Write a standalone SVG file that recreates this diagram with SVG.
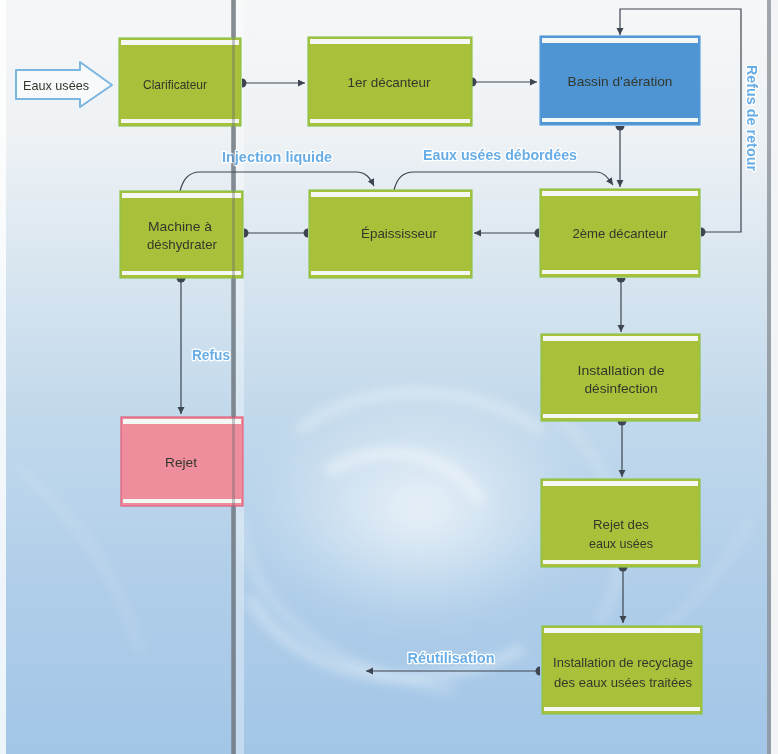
<svg xmlns="http://www.w3.org/2000/svg" width="778" height="754" viewBox="0 0 778 754">
  <style>
    .box-g .fill { fill: #a9c13a; }
    .box-g .edge { fill: none; stroke: #8cc44c; stroke-width: 1.2; }
    .box-b .fill { fill: #4f95d4; }
    .box-b .edge { fill: none; stroke: #5aa0dc; stroke-width: 1.2; }
    .box-r .fill { fill: #ee8d9c; }
    .box-r .edge { fill: none; stroke: #e0607e; stroke-width: 1.2; }
    .band { fill: #f4f8f4; }
    .t { font-family: "Liberation Sans Narrow", "Liberation Sans", Arial, sans-serif; font-size: 13.5px; fill: #33372c; text-anchor: middle; }
    .lbl { font-family: "Liberation Sans Narrow", "Liberation Sans", Arial, sans-serif; font-size: 14.5px; font-weight: bold; fill: #68ade6; stroke: #ffffff; stroke-width: 2.6; paint-order: stroke; stroke-linejoin: round; text-anchor: middle; }
    .wire { fill: none; stroke: #3d4550; stroke-width: 1.2; }
    .dot { fill: #3d4550; }
  </style>
  <defs>
    <linearGradient id="sky" x1="0" y1="0" x2="0" y2="1">
      <stop offset="0" stop-color="#f6f7f8"/>
      <stop offset="0.18" stop-color="#eef2f5"/>
      <stop offset="0.35" stop-color="#d9e6f0"/>
      <stop offset="0.55" stop-color="#c2d9ec"/>
      <stop offset="0.8" stop-color="#aecde9"/>
      <stop offset="1" stop-color="#a3c6e7"/>
    </linearGradient>
    <radialGradient id="eye" cx="0.5" cy="0.5" r="0.5">
      <stop offset="0" stop-color="#ffffff" stop-opacity="0.7"/>
      <stop offset="0.6" stop-color="#ffffff" stop-opacity="0.25"/>
      <stop offset="1" stop-color="#ffffff" stop-opacity="0"/>
    </radialGradient>
    <filter id="soft" x="-20%" y="-20%" width="140%" height="140%">
      <feGaussianBlur stdDeviation="6"/>
    </filter>
    <filter id="softer" x="-20%" y="-20%" width="140%" height="140%">
      <feGaussianBlur stdDeviation="14"/>
    </filter>
    <marker id="head" markerUnits="userSpaceOnUse" markerWidth="8" markerHeight="8" refX="7" refY="3.5" orient="auto">
      <path d="M0,0 L7,3.5 L0,7 Z" fill="#3d4550"/>
    </marker>
    <path id="cap" d="M0,-4.5 A4.5,4.5 0 0 1 0,4.5 Z"/>
  </defs>

  <!-- background: pale sky turning to a water vortex -->
  <rect x="0" y="0" width="778" height="754" fill="url(#sky)"/>
  <g id="vortex">
    <ellipse cx="420" cy="510" rx="170" ry="120" fill="url(#eye)" filter="url(#softer)"/>
    <g fill="none" stroke="#ffffff" stroke-linecap="round" filter="url(#soft)">
      <path d="M250,600 C300,680 420,700 520,650" stroke-width="8" opacity="0.45"/>
      <path d="M240,520 C250,610 330,670 450,690" stroke-width="6" opacity="0.35"/>
      <path d="M560,420 C620,470 640,560 600,620" stroke-width="6" opacity="0.3"/>
      <path d="M300,430 C360,380 470,380 540,430" stroke-width="8" opacity="0.4"/>
      <path d="M330,470 C380,440 450,450 480,500" stroke-width="10" opacity="0.5"/>
      <path d="M20,470 C80,520 120,580 140,650" stroke-width="6" opacity="0.2"/>
      <path d="M650,640 C700,600 730,560 750,520" stroke-width="5" opacity="0.25"/>
    </g>
  </g>

  <!-- page gutter and edges -->
  <rect x="0" y="0" width="6" height="754" fill="#ffffff" opacity="0.8"/>
  <rect x="236" y="0" width="8" height="754" fill="#ffffff" opacity="0.35"/>
  <rect x="231" y="0" width="5" height="754" fill="#7c848c" opacity="0.75"/>
  <rect x="767" y="0" width="4" height="754" fill="#8c9298" opacity="0.8"/>
  <rect x="771" y="0" width="7" height="754" fill="#f2f4f6"/>

  <!-- incoming flow -->
  <g id="inlet">
    <path d="M16,70 L80,70 L80,62 L112,85 L80,107 L80,99 L16,99 Z" fill="#f7f9fb" stroke="#7ab6e0" stroke-width="2" stroke-linejoin="round"/>
    <text class="t" x="56" y="90" textLength="66" lengthAdjust="spacingAndGlyphs">Eaux usées</text>
  </g>

  <!-- connectors -->
  <g id="connectors">
    <path class="wire" d="M242,83 H305" marker-end="url(#head)"/>
    <path class="wire" d="M472,82 H537" marker-end="url(#head)"/>
    <path class="wire" d="M620,126 V187" marker-end="url(#head)"/>
    <path class="wire" d="M701,232 H741 V9 H620 V35" marker-end="url(#head)"/>
    <path class="wire" d="M539,233 H474" marker-end="url(#head)"/>
    <path class="wire" d="M308,233 H245"/>
    <path class="wire" d="M180,191 C183,180 188,172 200,172 H356 C366,172 370,178 374,186" marker-end="url(#head)"/>
    <path class="wire" d="M394,190 C397,179 402,172 414,172 H596 C604,172 608,178 613,185" marker-end="url(#head)"/>
    <path class="wire" d="M621,278 V332" marker-end="url(#head)"/>
    <path class="wire" d="M622,421 V477" marker-end="url(#head)"/>
    <path class="wire" d="M623,567 V623" marker-end="url(#head)"/>
    <path class="wire" d="M540,671 H366" marker-end="url(#head)"/>
    <path class="wire" d="M181,278 V414" marker-end="url(#head)"/>
    <!-- attachment caps -->
    <use href="#cap" class="dot" transform="translate(242,83)"/>
    <use href="#cap" class="dot" transform="translate(472,82)"/>
    <use href="#cap" class="dot" transform="translate(620,126) rotate(90)"/>
    <use href="#cap" class="dot" transform="translate(701,232)"/>
    <use href="#cap" class="dot" transform="translate(539,233) rotate(180)"/>
    <use href="#cap" class="dot" transform="translate(308,233) rotate(180)"/>
    <use href="#cap" class="dot" transform="translate(244,233)"/>
    <use href="#cap" class="dot" transform="translate(621,278) rotate(90)"/>
    <use href="#cap" class="dot" transform="translate(622,421) rotate(90)"/>
    <use href="#cap" class="dot" transform="translate(623,567) rotate(90)"/>
    <use href="#cap" class="dot" transform="translate(540,671) rotate(180)"/>
    <use href="#cap" class="dot" transform="translate(181,278) rotate(90)"/>
  </g>

  <!-- flow labels -->
  <g id="labels">
    <text class="lbl" x="277" y="162" textLength="110" lengthAdjust="spacingAndGlyphs">Injection liquide</text>
    <text class="lbl" x="500" y="160" textLength="154" lengthAdjust="spacingAndGlyphs">Eaux usées débordées</text>
    <text class="lbl" x="211" y="360" textLength="38" lengthAdjust="spacingAndGlyphs">Refus</text>
    <text class="lbl" x="451" y="663" textLength="87" lengthAdjust="spacingAndGlyphs">Réutilisation</text>
    <text class="lbl" transform="translate(747,118) rotate(90)" x="0" y="0" textLength="106" lengthAdjust="spacingAndGlyphs">Refus de retour</text>
  </g>

  <!-- process units -->
  <g id="clarificateur" class="box-g">
    <rect class="fill" x="119" y="38" width="122" height="88"/>
    <rect class="band" x="121" y="40" width="118" height="5"/>
    <rect class="band" x="121" y="119" width="118" height="4"/>
    <rect class="edge" x="119" y="38" width="122" height="88"/>
    <text class="t" x="175" y="89" textLength="64" lengthAdjust="spacingAndGlyphs">Clarificateur</text>
  </g>

  <g id="decanteur1" class="box-g">
    <rect class="fill" x="308" y="37" width="164" height="89"/>
    <rect class="band" x="310" y="39" width="160" height="5"/>
    <rect class="band" x="310" y="119" width="160" height="4"/>
    <rect class="edge" x="308" y="37" width="164" height="89"/>
    <text class="t" x="389" y="87" textLength="83" lengthAdjust="spacingAndGlyphs">1er décanteur</text>
  </g>

  <g id="bassin" class="box-b">
    <rect class="fill" x="540" y="36" width="160" height="89"/>
    <rect class="band" x="542" y="38" width="156" height="5"/>
    <rect class="band" x="542" y="118" width="156" height="4"/>
    <rect class="edge" x="540" y="36" width="160" height="89"/>
    <text class="t" x="620" y="86" textLength="105" lengthAdjust="spacingAndGlyphs">Bassin d’aération</text>
  </g>

  <g id="machine" class="box-g">
    <rect class="fill" x="120" y="191" width="123" height="87"/>
    <rect class="band" x="122" y="193" width="119" height="5"/>
    <rect class="band" x="122" y="271" width="119" height="4"/>
    <rect class="edge" x="120" y="191" width="123" height="87"/>
    <text class="t" x="180" y="231" textLength="64" lengthAdjust="spacingAndGlyphs">Machine à</text>
    <text class="t" x="182" y="249" textLength="70" lengthAdjust="spacingAndGlyphs">déshydrater</text>
  </g>

  <g id="epaississeur" class="box-g">
    <rect class="fill" x="309" y="190" width="163" height="88"/>
    <rect class="band" x="311" y="192" width="159" height="5"/>
    <rect class="band" x="311" y="271" width="159" height="4"/>
    <rect class="edge" x="309" y="190" width="163" height="88"/>
    <text class="t" x="399" y="238" textLength="76" lengthAdjust="spacingAndGlyphs">Épaississeur</text>
  </g>

  <g id="decanteur2" class="box-g">
    <rect class="fill" x="540" y="189" width="160" height="88"/>
    <rect class="band" x="542" y="191" width="156" height="5"/>
    <rect class="band" x="542" y="270" width="156" height="4"/>
    <rect class="edge" x="540" y="189" width="160" height="88"/>
    <text class="t" x="620" y="238" textLength="95" lengthAdjust="spacingAndGlyphs">2ème décanteur</text>
  </g>

  <g id="desinfection" class="box-g">
    <rect class="fill" x="541" y="334" width="159" height="87"/>
    <rect class="band" x="543" y="336" width="155" height="5"/>
    <rect class="band" x="543" y="414" width="155" height="4"/>
    <rect class="edge" x="541" y="334" width="159" height="87"/>
    <text class="t" x="621" y="375" textLength="87" lengthAdjust="spacingAndGlyphs">Installation de</text>
    <text class="t" x="621" y="393" textLength="73" lengthAdjust="spacingAndGlyphs">désinfection</text>
  </g>

  <g id="rejet" class="box-r">
    <rect class="fill" x="121" y="417" width="122" height="89"/>
    <rect class="band" x="123" y="419" width="118" height="5"/>
    <rect class="band" x="123" y="499" width="118" height="4"/>
    <rect class="edge" x="121" y="417" width="122" height="89"/>
    <text class="t" x="181" y="467" textLength="32" lengthAdjust="spacingAndGlyphs">Rejet</text>
  </g>

  <g id="rejet-eaux" class="box-g">
    <rect class="fill" x="541" y="479" width="159" height="88"/>
    <rect class="band" x="543" y="481" width="155" height="5"/>
    <rect class="band" x="543" y="560" width="155" height="4"/>
    <rect class="edge" x="541" y="479" width="159" height="88"/>
    <text class="t" x="621" y="529" textLength="56" lengthAdjust="spacingAndGlyphs">Rejet des</text>
    <text class="t" x="621" y="548" textLength="64" lengthAdjust="spacingAndGlyphs">eaux usées</text>
  </g>

  <g id="recyclage" class="box-g">
    <rect class="fill" x="542" y="626" width="160" height="88"/>
    <rect class="band" x="544" y="628" width="156" height="5"/>
    <rect class="band" x="544" y="707" width="156" height="4"/>
    <rect class="edge" x="542" y="626" width="160" height="88"/>
    <text class="t" x="623" y="667" textLength="140" lengthAdjust="spacingAndGlyphs">Installation de recyclage</text>
    <text class="t" x="623" y="687" textLength="138" lengthAdjust="spacingAndGlyphs">des eaux usées traitées</text>
  </g>

  <!-- gutter shadow over the left column -->
  <rect x="232" y="0" width="3" height="754" fill="#5c646c" opacity="0.35"/>
</svg>
